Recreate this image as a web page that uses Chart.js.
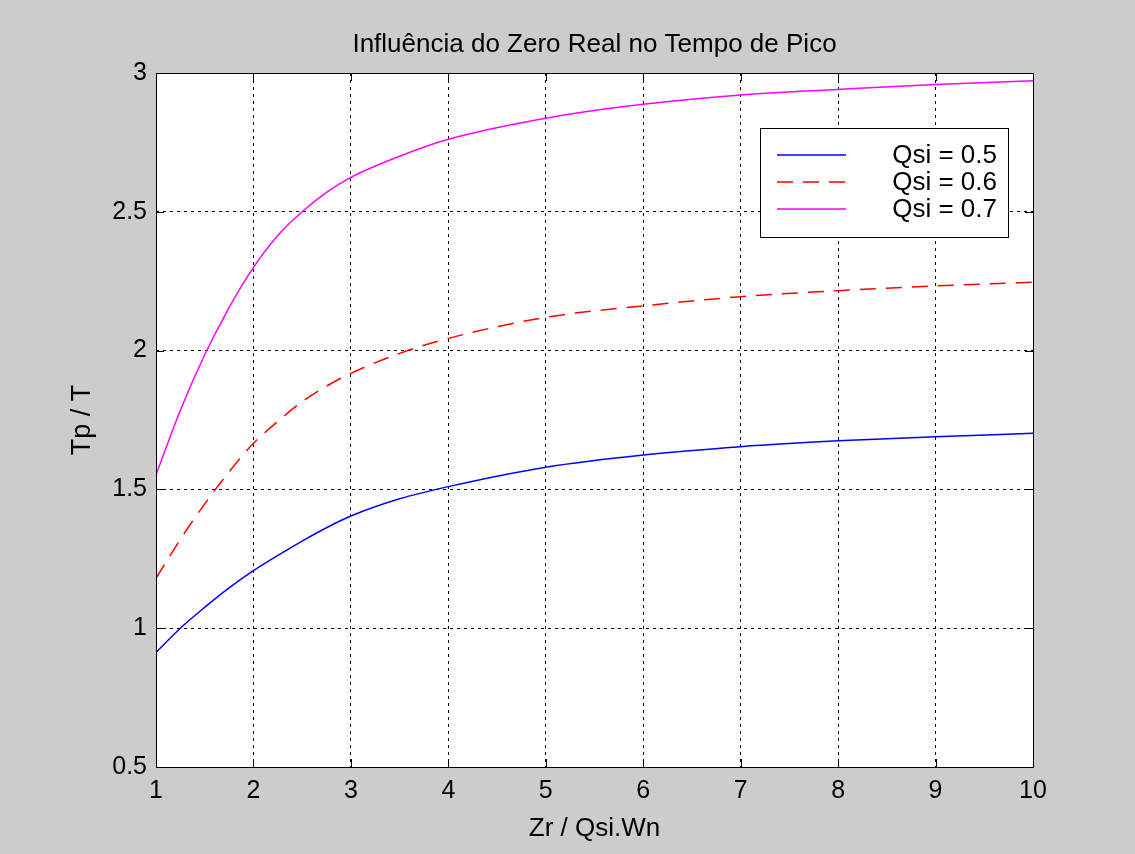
<!DOCTYPE html>
<html>
<head>
<meta charset="utf-8">
<script src="https://cdn.jsdelivr.net/npm/chart.js@4/dist/chart.umd.min.js"></script>
<style>
  body { margin: 0; background: #cccccc; }
  #wrap { width: 1135px; height: 854px; }
</style>
</head>
<body>
<div id="wrap"><canvas id="tpChart"></canvas></div>
<script>
// values
const zrValues = [1, 1.25, 1.5, 1.75, 2, 2.25, 2.5, 2.75, 3, 3.5, 4, 5, 6, 7, 8, 9, 10];
const qsi05 = [0.913, 1.0, 1.075, 1.145, 1.207, 1.262, 1.314, 1.362, 1.404, 1.466, 1.51, 1.58, 1.624, 1.654, 1.675, 1.69, 1.702];
const qsi06 = [1.18, 1.32, 1.448, 1.563, 1.666, 1.745, 1.816, 1.872, 1.918, 1.99, 2.044, 2.12, 2.161, 2.194, 2.216, 2.233, 2.246];
const qsi07 = [1.552, 1.785, 1.985, 2.155, 2.3, 2.415, 2.5, 2.57, 2.624, 2.70, 2.761, 2.837, 2.887, 2.921, 2.941, 2.959, 2.972];
const seriesLabels = ['Qsi = 0.5', 'Qsi = 0.6', 'Qsi = 0.7'];
const xTicks = [1, 2, 3, 4, 5, 6, 7, 8, 9, 10];
const yTicks = [0.5, 1, 1.5, 2, 2.5, 3];
const chartTitle = 'Influência do Zero Real no Tempo de Pico';

const FONT = "'Liberation Sans', Arial, sans-serif";

function toPoints(ys) {
  return zrValues.map((x, i) => ({ x: x, y: ys[i] }));
}

//Plugin for white plot area, title, box, inward ticks and legend box
const matlabBox = {
  id: 'matlabBox',
  beforeDraw(chart) {
    const { ctx, chartArea: a } = chart;
    ctx.save();
    ctx.fillStyle = '#ffffff';
    ctx.fillRect(a.left, a.top, a.right - a.left, a.bottom - a.top);
    ctx.fillStyle = '#000';
    ctx.font = '26px ' + FONT;
    ctx.textAlign = 'center';
    ctx.textBaseline = 'middle';
    ctx.fillText(chartTitle, (a.left + a.right) / 2, 45);
    ctx.restore();
  },
  afterDraw(chart) {
    const { ctx, chartArea: a, scales } = chart;
    ctx.save();
    ctx.strokeStyle = '#000';
    ctx.lineWidth = 1;
    ctx.setLineDash([]);
    ctx.strokeRect(a.left + 0.5, a.top + 0.5, a.right - a.left, a.bottom - a.top);
    ctx.beginPath();
    xTicks.forEach(v => {
      const px = Math.round(scales.x.getPixelForValue(v)) + 0.5;
      ctx.moveTo(px, a.bottom); ctx.lineTo(px, a.bottom - 8);
      ctx.moveTo(px, a.top); ctx.lineTo(px, a.top + 8);
    });
    yTicks.forEach(v => {
      const py = Math.round(scales.y.getPixelForValue(v)) + 0.5;
      ctx.moveTo(a.left, py); ctx.lineTo(a.left + 8, py);
      ctx.moveTo(a.right, py); ctx.lineTo(a.right - 8, py);
    });
    ctx.stroke();

    // legend
    const bx = 760, by = 128, bw = 248, bh = 109;
    ctx.fillStyle = '#ffffff';
    ctx.fillRect(bx, by, bw, bh);
    ctx.strokeRect(bx + 0.5, by + 0.5, bw, bh);
    ctx.font = '26px ' + FONT;
    ctx.textAlign = 'right';
    ctx.textBaseline = 'middle';
    chart.data.datasets.forEach((ds, i) => {
      const y = 155 + i * 27;
      ctx.strokeStyle = ds.borderColor;
      ctx.lineWidth = ds.borderWidth;
      ctx.setLineDash(ds.borderDash || []);
      ctx.beginPath();
      ctx.moveTo(777, y);
      ctx.lineTo(846, y);
      ctx.stroke();
      ctx.fillStyle = '#000';
      ctx.fillText(ds.label, 997, y + 1);
    });
    ctx.restore();
  }
};

window.addEventListener('DOMContentLoaded', function () {
  const ctx = document.getElementById('tpChart').getContext('2d');

  new Chart(ctx, {
    type: 'line',
    data: {
      datasets: [
        { label: seriesLabels[0], data: toPoints(qsi05), borderColor: '#0000ff', borderWidth: 1.5 },
        { label: seriesLabels[1], data: toPoints(qsi06), borderColor: '#ff0000', borderWidth: 1.5, borderDash: [16, 10] },
        { label: seriesLabels[2], data: toPoints(qsi07), borderColor: '#ff00ff', borderWidth: 1.5 }
      ]
    },
    options: {
      responsive: true,
      maintainAspectRatio: false,
      animation: false,
      layout: { padding: { left: 0, right: 102, top: 73, bottom: 0 } },
      elements: {
        point: { radius: 0 },
        line: { cubicInterpolationMode: 'monotone', fill: false }
      },
      scales: {
        x: {
          type: 'linear',
          min: 1,
          max: 10,
          afterFit: (scale) => { scale.height = 87; },
          afterBuildTicks: (scale) => { scale.ticks = xTicks.map(v => ({ value: v })); },
          ticks: { color: '#000', padding: 9, font: { family: FONT, size: 25 }, maxRotation: 0, callback: (v) => String(v) },
          grid: { color: '#000', drawTicks: false },
          border: { display: false, dash: [3, 4] },
          title: { display: true, text: 'Zr / Qsi.Wn', color: '#000', font: { family: FONT, size: 26 }, padding: { top: 0, bottom: 10 } }
        },
        y: {
          min: 0.5,
          max: 3,
          afterFit: (scale) => { scale.width = 156; },
          afterBuildTicks: (scale) => { scale.ticks = yTicks.map(v => ({ value: v })); },
          ticks: { color: '#000', padding: 9, font: { family: FONT, size: 25 }, callback: (v) => String(v) },
          grid: { color: '#000', drawTicks: false },
          border: { display: false, dash: [3, 4] },
          title: { display: true, text: 'Tp / T', color: '#000', font: { family: FONT, size: 27 }, padding: { top: 66, bottom: 0 } }
        }
      },
      plugins: {
        legend: { display: false },
        tooltip: { enabled: false },
        title: { display: false }
      }
    },
    plugins: [matlabBox]
  });
});
</script>
</body>
</html>
